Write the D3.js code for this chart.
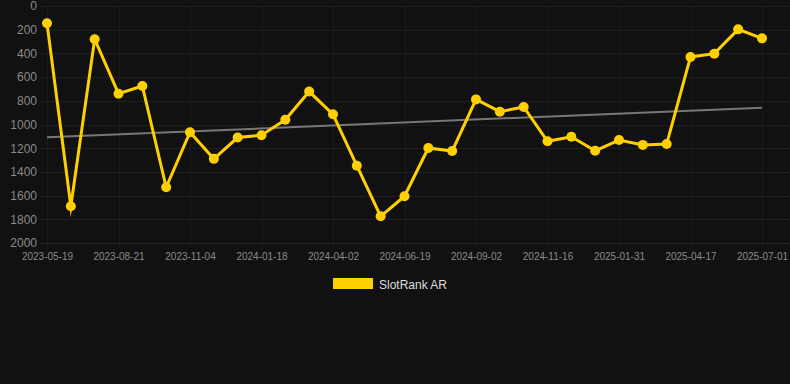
<!DOCTYPE html>
<html>
<head>
<meta charset="utf-8">
<script src="https://cdn.jsdelivr.net/npm/d3@7"></script>
<style>
html,body{margin:0;padding:0;background:#111111;}
svg{display:block;}
text{font-family:Arial,"Liberation Sans",Helvetica,sans-serif;}
</style>
</head>
<body>
<svg id="chart" width="790" height="384"></svg>
<script>
// Data (rank values, lower is better)
const seriesName = "SlotRank AR";
const rankValues = [145, 1690, 280, 740, 675, 1530, 1065, 1290, 1110, 1090,
  960, 722, 914, 1348, 1775, 1605, 1198, 1224, 788, 892,
  852, 1142, 1103, 1222, 1131, 1172, 1165, 430, 402, 197, 273];
const tickLabels = ["2023-05-19", "2023-08-21", "2023-11-04", "2024-01-18", "2024-04-02",
  "2024-06-19", "2024-09-02", "2024-11-16", "2025-01-31", "2025-04-17", "2025-07-01"];
const tickEvery = 3;
const yTicks = [0, 200, 400, 600, 800, 1000, 1200, 1400, 1600, 1800, 2000];
const trendValues = [1108, 858];

const svg = d3.select("#chart");
const gridLeft = 40, gridRight = 790;
const plotTop = 6, plotBottom = 243;

const idx = d3.range(rankValues.length);
const x = d3.scaleLinear().domain([0, rankValues.length - 1]).range([47, 762]);
const y = d3.scaleLinear().domain([0, 2000]).range([plotTop, plotBottom]);

// horizontal grid
svg.append("g").selectAll("line").data(yTicks).join("line")
  .attr("x1", gridLeft).attr("x2", gridRight)
  .attr("y1", d => Math.round(y(d)) + 0.5).attr("y2", d => Math.round(y(d)) + 0.5)
  .attr("stroke", d => d === 2000 ? "#262626" : "#1e1e1e").attr("stroke-width", 1);

// vertical grid at labelled categories
const tickIdx = tickLabels.map((t, i) => i * tickEvery);
svg.append("g").selectAll("line").data(tickIdx).join("line")
  .attr("x1", d => Math.round(x(d)) + 0.5).attr("x2", d => Math.round(x(d)) + 0.5)
  .attr("y1", plotTop).attr("y2", plotBottom + 5)
  .attr("stroke", "#1b1b1b").attr("stroke-width", 1);

// y axis labels
const yAxis = d3.axisLeft(y).tickValues(yTicks).tickFormat(d3.format("d")).tickSize(0).tickPadding(0);
const gy = svg.append("g").attr("transform", "translate(37,0)").call(yAxis);
gy.select(".domain").remove();
gy.selectAll("text").attr("fill", "#8a8a8a").style("font-size", "12px")
  .style("font-family", "Arial, 'Liberation Sans', sans-serif");

// x axis labels
const xAxis = d3.axisBottom(x).tickValues(tickIdx)
  .tickFormat((d, i) => tickLabels[i]).tickSize(0).tickPadding(0);
const gx = svg.append("g").attr("transform", `translate(0,${plotBottom + 10})`).call(xAxis);
gx.select(".domain").remove();
gx.selectAll("text").attr("fill", "#8a8a8a").style("font-size", "10px")
  .style("font-family", "Arial, 'Liberation Sans', sans-serif");

// trend line
svg.append("line")
  .attr("x1", x(0)).attr("x2", x(rankValues.length - 1))
  .attr("y1", y(trendValues[0])).attr("y2", y(trendValues[1]))
  .attr("stroke", "#777777").attr("stroke-width", 2);

// series line
const line = d3.line().x(d => x(d)).y(d => y(rankValues[d]));
svg.append("path").datum(idx).attr("d", line)
  .attr("fill", "none").attr("stroke", "#FFD000").attr("stroke-width", 3)
  .attr("stroke-linejoin", "miter").attr("stroke-miterlimit", 10);

svg.append("g").selectAll("circle").data(idx).join("circle")
  .attr("cx", d => x(d)).attr("cy", d => y(rankValues[d])).attr("r", 5)
  .attr("fill", "#FFD000");

// legend
svg.append("rect").attr("x", 333).attr("y", 278).attr("width", 40).attr("height", 11)
  .attr("fill", "#FFD000");
svg.append("text").attr("x", 379).attr("y", 289).text(seriesName)
  .attr("fill", "#dddddd").style("font-size", "12px");
</script>
</body>
</html>
